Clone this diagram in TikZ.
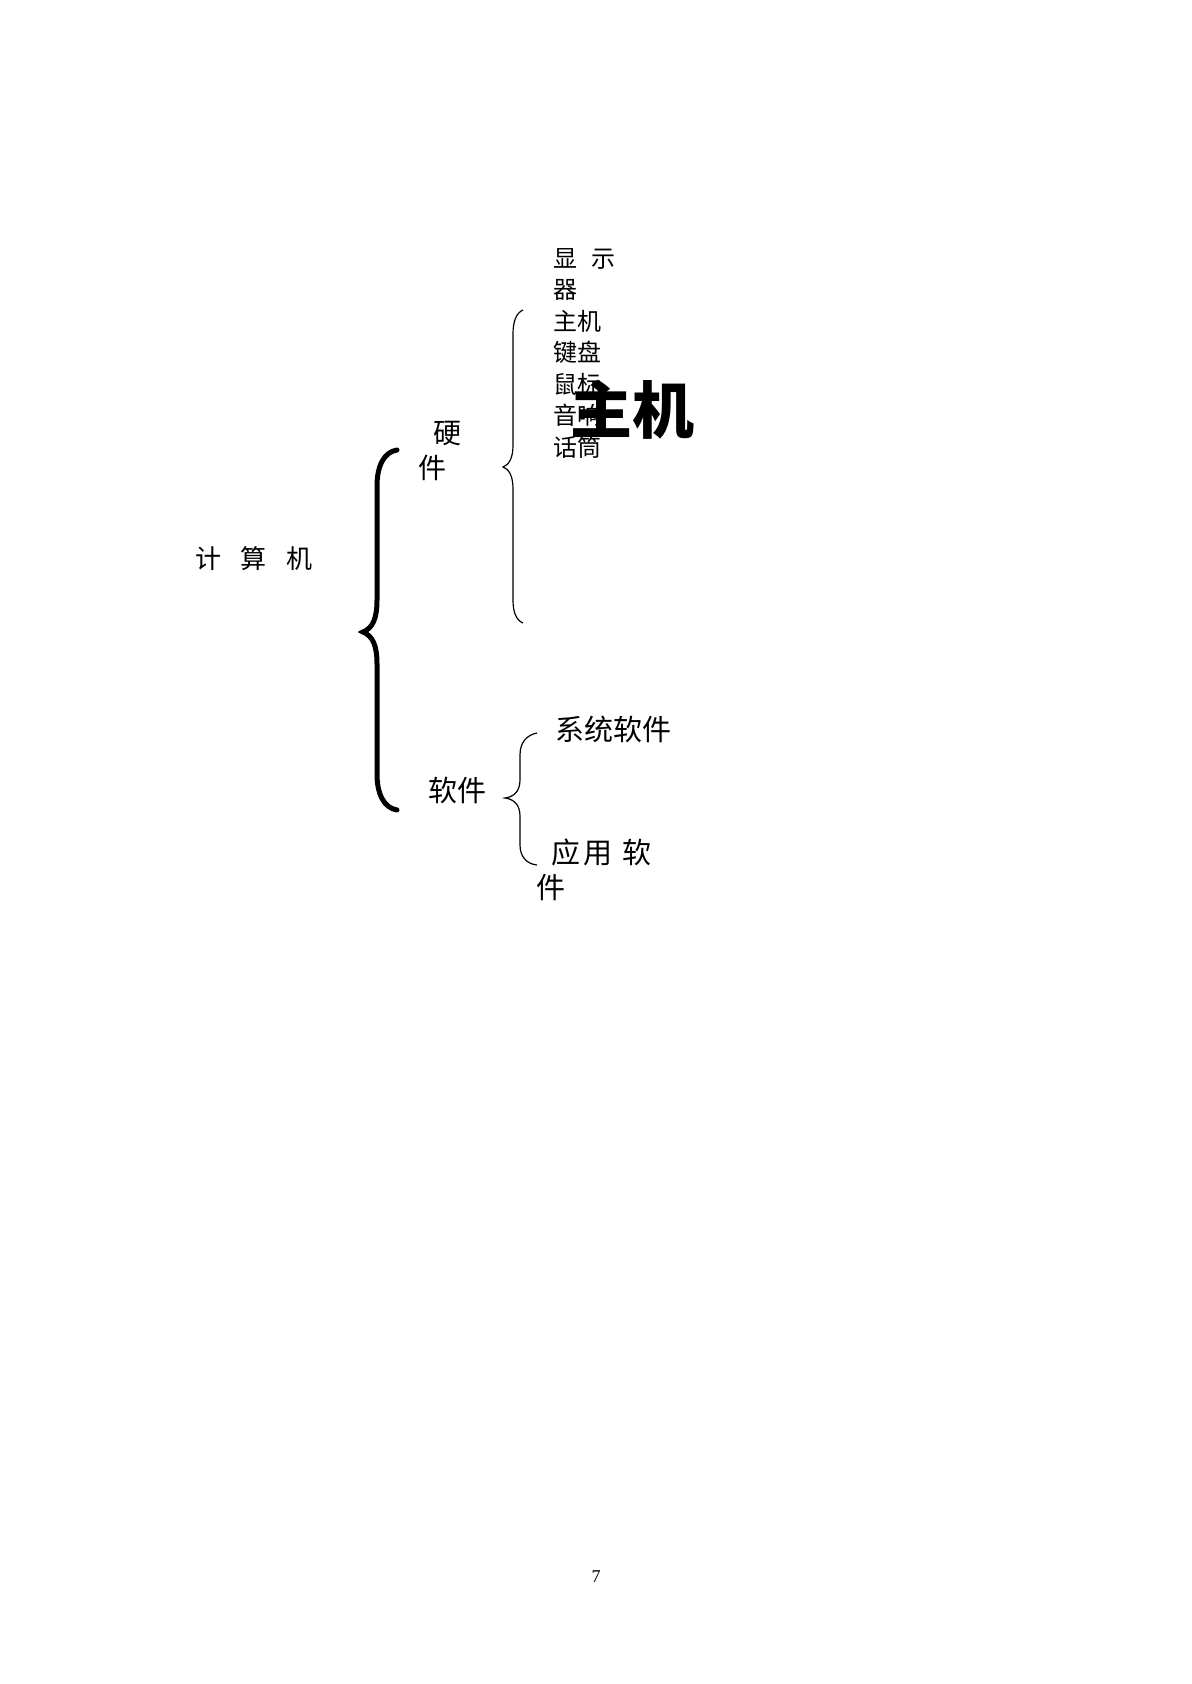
\documentclass[tikz,border=0pt]{standalone}
\usepackage{fontspec}
\newfontfamily\cjk{Noto Sans CJK SC}
\setmainfont{Liberation Serif}
\begin{document}
\begin{tikzpicture}[x=0.5pt,y=-0.5pt,
  lbl/.style={anchor=base west,inner sep=0pt,font=\cjk\fontsize{12}{14}\selectfont},
  lblb/.style={anchor=base west,inner sep=0pt,font=\cjk\fontsize{13}{15}\selectfont},
  lblc/.style={anchor=base west,inner sep=0pt,font=\cjk\fontsize{14.5}{16}\selectfont},
  bigbrace/.style={line width=2.5pt,line cap=round},
  smallbrace/.style={line width=0.6pt}]
\useasboundingbox (0,0) rectangle (1191,1684);
% left label
\node[lblb] (jsj) at (195,568) {计\hspace{9.8pt}算\hspace{9.8pt}机};
% big brace
\draw[bigbrace] (397,450) .. controls (384,452) and (377,466) .. (377,486)
  -- (377,600) .. controls (377,618) and (373,628) .. (363,632)
  .. controls (373,636) and (377,646) .. (377,664)
  -- (377,774) .. controls (377,794) and (384,808) .. (397,810);
% hardware
\node[lblb,font=\cjk\fontsize{14}{16}\selectfont] (yj1) at (433,444) {硬};
\node[lblb,font=\cjk\fontsize{14}{16}\selectfont] (yj2) at (418,479) {件};
\draw[smallbrace] (523,310) .. controls (516,313) and (513,322) .. (513,334)
  -- (513,445) .. controls (513,458) and (509,465) .. (503,467)
  .. controls (509,469) and (513,476) .. (513,489)
  -- (513,600) .. controls (513,612) and (516,620) .. (523,623);
\node[lbl] (h1) at (553,268) {显\hspace{7pt}示};
\node[lbl] (h2) at (553,299) {器};
\node[lbl] (h3) at (553,331) {主机};
\node[lbl] (h4) at (553,362) {键盘};
\node[lbl] (h5) at (553,394) {鼠标};
\node[lbl] (h6) at (553,425) {音响};
\node[lbl] (h7) at (553,457) {话筒};
\node[anchor=base west,inner sep=0pt,font=\cjk\bfseries\fontsize{31}{34}\selectfont] (big) at (570,434) {主机};
% software
\node[lblc] (rj) at (428,801) {软件};
\draw[smallbrace] (537,733) .. controls (527,735) and (520,742) .. (520,755)
  -- (520,780) .. controls (520,792) and (513,797) .. (505,798)
  .. controls (513,799) and (520,804) .. (520,816)
  -- (520,845) .. controls (520,857) and (527,864) .. (537,865);
\node[lblc] (s1) at (555,740) {系统软件};
\node[lblc] (s2) at (551,863) {应\hspace{1.5pt}用\hspace{5pt}软};
\node[lblc] (s3) at (536,898) {件};
% page number
\node[anchor=base,inner sep=0pt,font=\fontsize{9}{10}\selectfont] (pg) at (596,1582) {7};
\end{tikzpicture}
\end{document}
